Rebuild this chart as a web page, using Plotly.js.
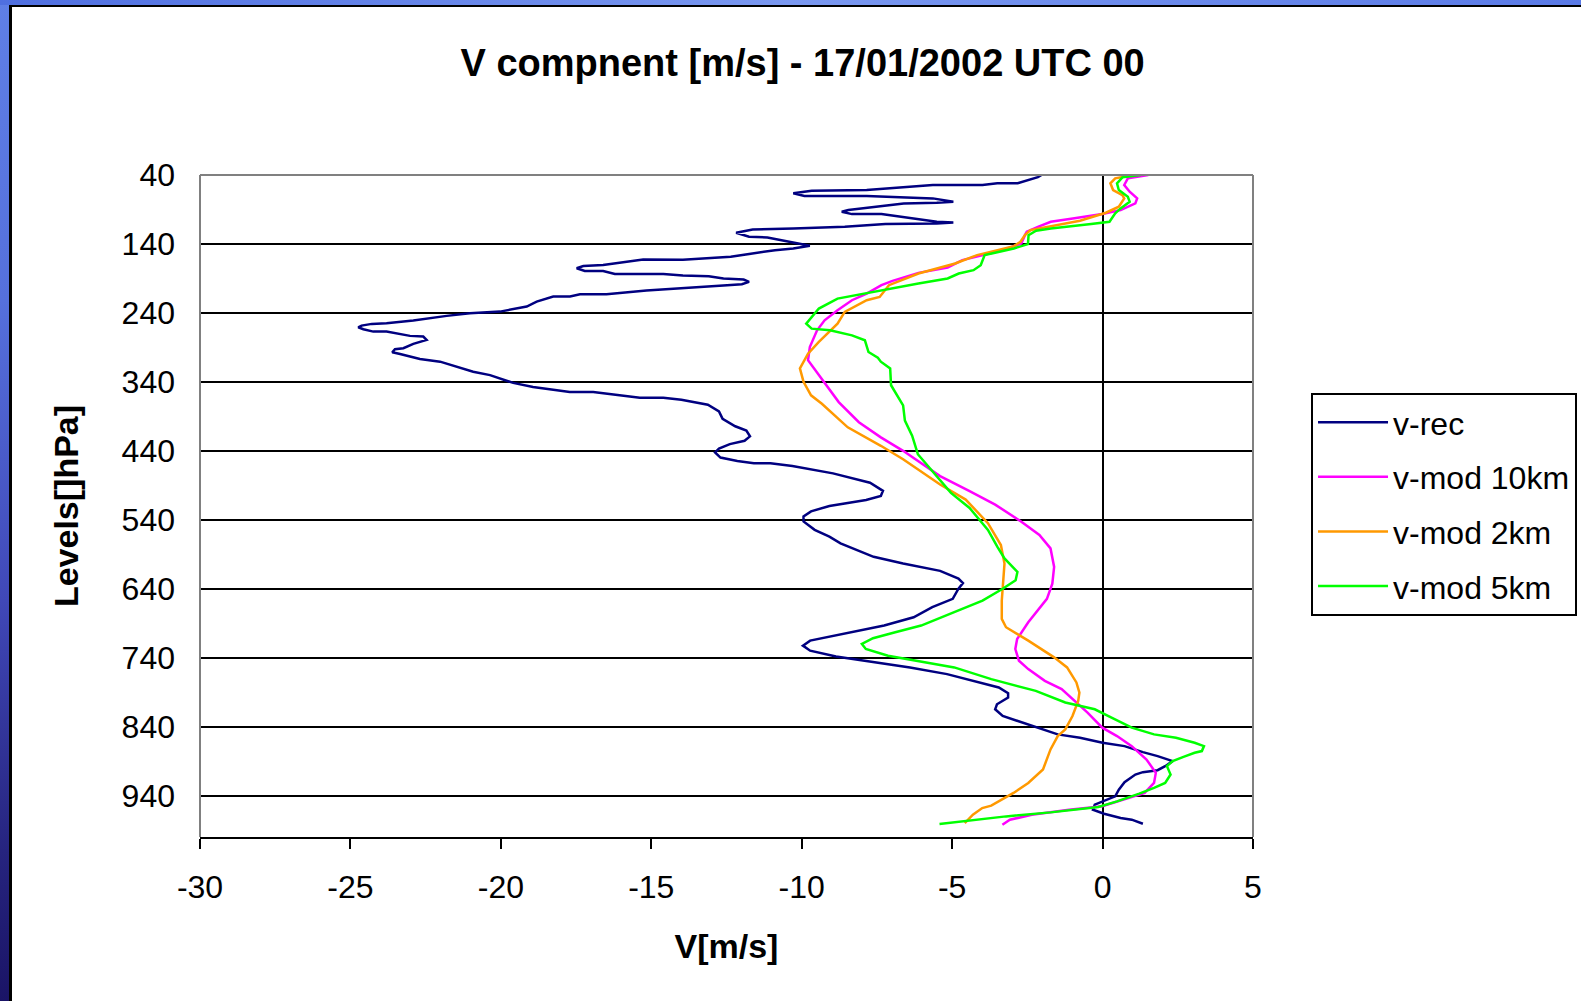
<!DOCTYPE html>
<html>
<head>
<meta charset="utf-8">
<script src="https://cdn.plot.ly/plotly-3.0.1.min.js"></script>
<style>
  html, body { margin:0; padding:0; width:1581px; height:1001px; overflow:hidden; background:#ffffff; }
  #bgleft { position:absolute; left:0; top:0; width:9px; height:1001px;
    background:linear-gradient(to bottom, #5f7fe6 0%, #5570dc 30%, #4048b8 60%, #26247f 85%, #1a1466 100%); }
  #bgtop { position:absolute; left:0; top:0; width:1581px; height:5px;
    background:linear-gradient(to right, #4f6fe0 0%, #7a98f0 50%, #5a7ae6 100%); }
  #lineleft { position:absolute; left:9px; top:5px; width:3px; height:996px; background:#000; }
  #linetop { position:absolute; left:9px; top:5px; width:1572px; height:2px; background:#000; }
  #chart { position:absolute; left:0; top:0; width:1581px; height:1001px; }
</style>
</head>
<body>
<div id="bgleft"></div>
<div id="bgtop"></div>
<div id="lineleft"></div>
<div id="linetop"></div>
<div id="chart"></div>
<script>
// ---- data: wind V component [m/s] vs pressure level [hPa] ----
const recV = [-2.03,-2.15,-2.82,-3.50,-3.99,-5.64,-7.84,-9.67,-10.28,-9.91,-7.84,-5.64,-4.96,-5.51,-6.61,-7.47,-8.45,-8.67,-8.33,-7.35,-5.51,-4.96,-5.51,-7.22,-8.57,-10.28,-11.63,-12.18,-11.75,-11.14,-10.16,-9.73,-10.28,-10.89,-12.36,-13.95,-15.27,-16.60,-17.26,-17.48,-17.21,-16.60,-16.21,-14.60,-13.95,-13.09,-12.60,-11.93,-11.75,-11.99,-12.48,-13.95,-15.16,-16.49,-17.37,-17.70,-18.26,-18.81,-19.14,-20.03,-21.03,-21.80,-22.91,-23.80,-24.29,-24.63,-24.74,-24.57,-24.24,-23.80,-23.02,-22.58,-22.47,-22.91,-23.24,-23.52,-23.61,-23.35,-22.69,-22.02,-20.92,-20.36,-19.59,-18.93,-17.71,-16.93,-15.38,-14.60,-14.00,-13.12,-12.75,-12.63,-12.21,-11.84,-11.72,-11.90,-12.39,-12.75,-12.88,-12.70,-12.14,-11.59,-11.04,-10.31,-8.96,-7.73,-7.30,-7.37,-7.86,-9.08,-9.69,-9.94,-9.94,-9.57,-9.08,-8.71,-7.61,-6.63,-5.40,-4.79,-4.64,-4.79,-4.98,-5.66,-6.28,-7.26,-8.12,-9.10,-9.72,-9.96,-9.72,-8.86,-7.87,-6.40,-5.17,-4.31,-3.45,-3.14,-3.14,-3.51,-3.57,-3.32,-2.47,-1.49,-0.75,0.00,0.73,1.34,1.83,2.33,2.08,1.83,1.34,1.09,0.73,0.54,0.42,0.00,-0.26,-0.32,0.05,0.60,0.97,1.34];
const recP = [40,43,52,52,54.5,54.5,61.8,62.8,66.6,70.5,70.5,73.9,78.7,80.2,81.2,86.0,90.8,93.3,96.7,96.7,107.8,108.8,110.2,111.2,115.1,117.5,118.9,123.8,129.6,130.6,138.3,142.7,146.5,149.0,158.6,163,162.5,170.4,171.9,175.3,179.1,179.1,183.5,183.5,185.8,186.7,190.1,191.6,195.0,198.4,199.8,204,207.6,213.0,213.0,216.3,216.3,223.6,230.8,238.1,240.5,244.3,251.1,255.0,255.9,258.4,260.8,263.7,267.1,267.1,273.3,274.3,279.1,284.9,291.2,292.7,297,299.5,306.8,310.7,325.4,330.2,341.5,347.3,354.6,354.6,362.9,362.9,366,373.2,382.9,393.7,404.4,410.7,419.0,425.4,430.2,436.6,442.4,449.8,454.6,458.0,458.0,462.0,472.7,486.3,498.0,505.4,511.2,520.0,527.8,535.1,542.4,554.6,564.4,574.1,593.7,603.4,614.1,625.4,631.7,640,654.6,666.7,681.3,693.4,700.7,708.9,715.2,722.5,729.8,738.1,744.4,754.1,763.8,773.5,783.2,791.5,797.8,807.5,814.8,824.5,836.6,851.2,856.0,863.3,868.2,876.9,882.7,890.0,897.3,903.1,906.0,909.4,920.6,931.3,941.0,948.3,953.1,960.4,966.2,972.5,974.9,980.8];

const mod10V = [1.52,0.84,0.72,0.90,1.15,1.09,0.60,-0.01,-0.99,-1.72,-2.15,-2.52,-2.58,-2.70,-3.31,-4.17,-4.66,-5.15,-6.12,-6.98,-7.35,-7.84,-8.33,-8.81,-9.24,-9.49,-9.73,-9.79,-9.33,-8.77,-8.10,-7.37,-6.63,-5.40,-4.42,-3.57,-2.71,-2.10,-1.73,-1.61,-1.67,-1.85,-2.47,-2.84,-2.90,-2.78,-2.47,-1.92,-1.36,-1.00,-0.50,-0.01,0.48,0.97,1.46,1.77,1.71,1.40,0.72,-0.01,-1.12,-2.35,-3.08,-3.33];
const mod10P = [40,44.8,54.5,64.2,73.9,81.2,90.8,96.7,103.0,107.8,115.1,122.3,127.2,139.3,149.0,157.7,163.5,174.1,181.9,193.5,199.8,211.9,221.6,236.1,250.7,265.2,289.4,308.5,335.1,369.3,398.5,420.5,440.0,476.6,498.5,518.0,542.4,561.9,581.5,608.3,632.7,654.6,688.5,712.8,727.4,744.4,756.5,773.5,785.6,800.2,819.6,841.5,853.6,868.2,887.6,907.0,921.6,936.1,945.8,955.5,960.4,967.7,975.0,982.2];

const mod2V = [1.03,0.42,0.26,0.35,0.66,0.72,0.54,0.11,-0.75,-1.72,-2.40,-2.58,-2.73,-2.95,-3.44,-4.17,-4.90,-5.39,-6.12,-7.10,-7.41,-7.84,-8.57,-8.81,-9.43,-9.79,-10.06,-9.94,-9.69,-9.33,-8.47,-7.37,-6.63,-5.40,-4.55,-3.81,-3.38,-3.26,-3.32,-3.35,-3.35,-3.21,-2.47,-1.61,-1.18,-0.87,-0.77,-0.81,-1.00,-1.24,-1.49,-1.73,-1.98,-2.47,-2.96,-3.70,-4.00,-4.31,-4.58];
const mod2P = [40,44.8,52.1,61.8,69.1,73.9,86.0,94.7,106.3,114.1,119.9,127.2,136.9,143.1,148.0,156.2,168.3,174.1,182.9,199.8,216.8,221.6,238.5,255.5,282.1,299.1,320.5,340,359.5,371.7,405.9,432.7,452.2,488.8,510.7,544.9,576.6,603.4,632.7,657.1,683.7,695.8,715.2,739.5,754.1,775.9,790.5,802.6,824.5,843.9,853.6,873.0,902.1,921.6,936.1,954.6,958.0,967.7,979.8];

const mod5V = [1.27,0.66,0.48,0.54,0.84,0.90,0.60,0.42,0.23,-0.38,-1.72,-2.21,-2.46,-2.48,-2.95,-3.92,-4.05,-4.29,-4.78,-5.15,-6.12,-6.98,-8.08,-8.81,-9.43,-9.85,-9.67,-9.06,-8.33,-7.90,-7.78,-7.47,-7.37,-7.06,-7.03,-6.63,-6.57,-6.33,-6.14,-5.65,-5.04,-4.42,-3.81,-3.50,-3.26,-2.83,-2.89,-3.32,-3.99,-4.93,-6.03,-6.89,-7.63,-8.00,-7.87,-7.13,-4.93,-3.70,-2.22,-1.24,-0.26,0.23,0.97,1.71,2.44,3.06,3.37,3.30,3.06,2.69,2.33,2.14,2.26,2.08,1.71,1.22,0.48,-0.14,-1.73,-3.21,-4.56,-5.42];
const mod5P = [40,43.4,52.1,61.8,71.5,78.7,88.4,95.7,107.8,111.2,117.5,120.9,127.2,140.2,146.5,156.2,170.8,178.0,182.9,190.1,197.4,204.6,212.9,219.2,233.7,255.5,262.8,265.2,272.5,279.7,296.7,305,310.7,320.5,344.9,374.1,396.1,418.0,444.9,469.3,501.0,522.9,554.6,579.0,596.1,615.6,627.8,640,657.1,674.0,693.4,703.1,711.8,720.1,727.4,737.1,754.1,771.1,788.1,805.0,814.8,825.4,841.5,851.2,856.0,863.3,868.2,875.4,877.9,883.7,890.0,897.3,909.4,921.6,928.8,937.1,948.3,956.5,964.3,970.1,977.4,981.3];

const seriesNames = ['v-rec', 'v-mod 10km', 'v-mod 2km', 'v-mod 5km'];
const seriesColors = ['#000080', '#FF00FF', '#FF9900', '#00FF00'];
const xTickVals = [-30, -25, -20, -15, -10, -5, 0, 5];
const xTickText = ['-30', '-25', '-20', '-15', '-10', '-5', '0', '5'];
const yTickVals = [40, 140, 240, 340, 440, 540, 640, 740, 840, 940];
const yTickText = ['40', '140', '240', '340', '440', '540', '640', '740', '840', '940'];
const xTitle = 'V[m/s]';
const yTitle = 'Levels[]hPa]';
const chartTitle = 'V compnent [m/s] - 17/01/2002 UTC 00';

const FONT = 'Liberation Sans, Arial, sans-serif';
const xs = [recV, mod10V, mod2V, mod5V];
const ys = [recP, mod10P, mod2P, mod5P];

const traces = seriesNames.map((n, i) => ({
  type: 'scatter', mode: 'lines', name: n,
  x: xs[i], y: ys[i],
  line: { color: seriesColors[i], width: 2.5 },
  legendgroup: 'g' + i
}));

const layout = {
  width: 1581, height: 1001,
  paper_bgcolor: 'rgba(0,0,0,0)', plot_bgcolor: '#ffffff',
  margin: { l: 200, r: 328, t: 175, b: 164, autoexpand: false },
  font: { family: FONT, color: '#000000', size: 32 },
  title: { text: chartTitle, font: { family: FONT, size: 38, weight: 'bold', color: '#000' },
           xref: 'paper', x: 0.5723, xanchor: 'center', yref: 'container', y: 0.937, yanchor: 'middle' },
  xaxis: {
    range: [-30, 5], tickmode: 'array', tickvals: xTickVals, ticktext: xTickText,
    ticks: 'outside', ticklen: 10, tickwidth: 2, tickcolor: '#000',
    showline: true, linecolor: '#000', linewidth: 2,
    showgrid: false, zeroline: true, zerolinecolor: '#000', zerolinewidth: 2,
    tickfont: { family: FONT, size: 32, color: '#000' }, ticklabelstandoff: 11,
    title: { text: xTitle, font: { family: FONT, size: 34, weight: 'bold', color: '#000' }, standoff: 30 },
    fixedrange: true
  },
  yaxis: {
    range: [1000, 40], tickmode: 'array', tickvals: yTickVals, ticktext: yTickText,
    ticks: '', showline: false,
    showgrid: true, gridcolor: '#000', gridwidth: 2, zeroline: false,
    tickfont: { family: FONT, size: 32, color: '#000' }, ticklabelstandoff: 24,
    title: { text: yTitle, font: { family: FONT, size: 34, weight: 'bold', color: '#000' }, standoff: 32 },
    fixedrange: true
  },
  showlegend: true,
  legend: {
    x: 1.0551, y: 0.6708, xanchor: 'left', yanchor: 'top',
    bgcolor: '#ffffff', bordercolor: '#000', borderwidth: 2,
    font: { family: FONT, size: 32, color: '#000' },
    traceorder: 'grouped', tracegroupgap: 10, itemwidth: 70
  },
  shapes: [
    { type: 'line', xref: 'paper', yref: 'paper', x0: 0, x1: 1, y0: 1, y1: 1, line: { color: '#808080', width: 2 }, layer: 'above' },
    { type: 'line', xref: 'paper', yref: 'paper', x0: 0, x1: 0, y0: 0, y1: 1, line: { color: '#808080', width: 2 }, layer: 'above' },
    { type: 'line', xref: 'paper', yref: 'paper', x0: 1, x1: 1, y0: 0, y1: 1, line: { color: '#808080', width: 2 }, layer: 'above' }
  ]
};

Plotly.newPlot('chart', traces, layout, { displayModeBar: false, staticPlot: true });
</script>
</body>
</html>
